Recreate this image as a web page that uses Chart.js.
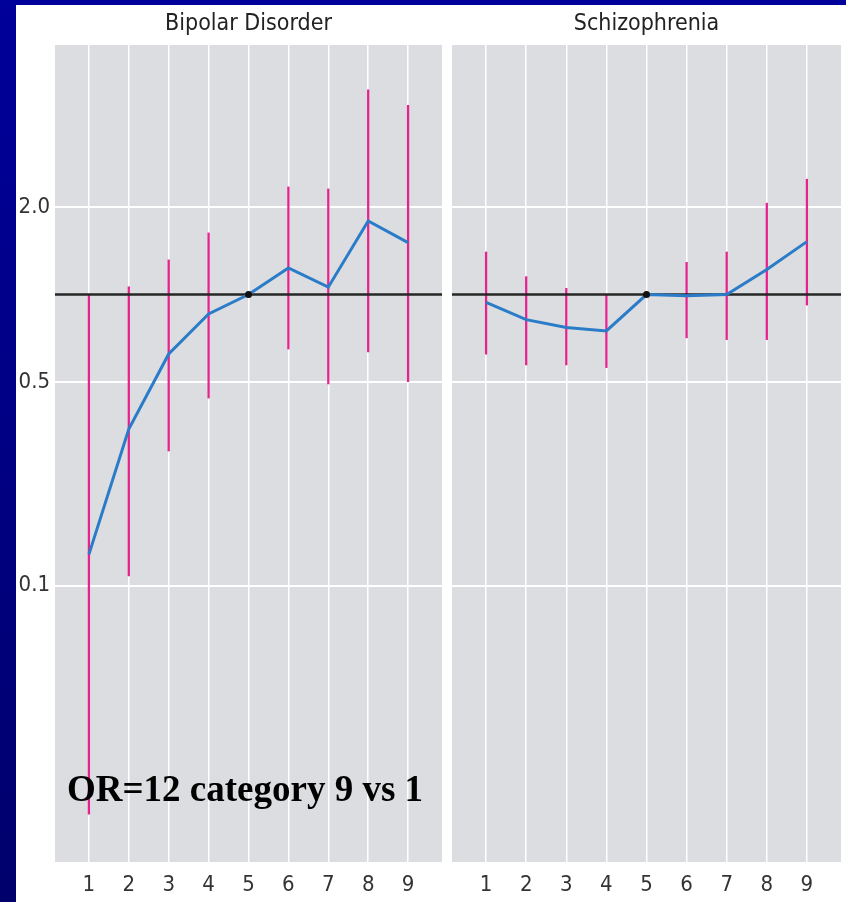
<!DOCTYPE html>
<html>
<head>
<meta charset="utf-8">
<script src="https://cdn.jsdelivr.net/npm/chart.js@4.4.1/dist/chart.umd.min.js"></script>
<style>
  html, body {
    margin: 0; padding: 0; width: 846px; height: 902px; overflow: hidden;
    background: linear-gradient(#00009a, #00006c);
  }
  #sheet { position: absolute; left: 16px; top: 5px; width: 830px; height: 897px; background: #fff; }
  .panel { position: absolute; top: 0; height: 897px; }
  #leftWrap { left: 0; width: 431px; }
  #rightWrap { left: 431px; width: 399px; }
</style>
</head>
<body>
<div id="sheet">
  <div class="panel" id="leftWrap"><canvas id="bipolar"></canvas></div>
  <div class="panel" id="rightWrap"><canvas id="schizo"></canvas></div>
</div>
<script>
// Odds ratios by category (category 5 is the reference group)
const categories = [1, 2, 3, 4, 5, 6, 7, 8, 9];

const bipolarOR   = [0.128, 0.345, 0.625, 0.858, 1.0, 1.234, 1.06, 1.79, 1.508];
const bipolarLow  = [0.0164, 0.108, 0.290, 0.441, null, 0.650, 0.493, 0.635, 0.502];
const bipolarHigh = [1.0, 1.062, 1.315, 1.628, null, 2.343, 2.306, 5.05, 4.47];

const schizoOR   = [0.94, 0.82, 0.77, 0.75, 1.0, 0.99, 1.0, 1.22, 1.52];
const schizoLow  = [0.624, 0.573, 0.573, 0.561, null, 0.71, 0.70, 0.70, 0.92];
const schizoHigh = [1.40, 1.152, 1.05, 1.0, null, 1.29, 1.40, 2.06, 2.49];

const yTickValues = [0.1, 0.5, 2.0];
const referenceOR = 1;

const X_MIN = 0.15, X_MAX = 9.85;
const Y_MIN = 0.01123, Y_MAX = 7.2;

const FAMILY = '"Liberation Sans Narrow", "DejaVu Sans Condensed", "Liberation Sans", sans-serif';
const TICK_FONT = { family: FAMILY, size: 22 };
const TITLE_FONT = { family: FAMILY, size: 23, weight: 'normal' };

const PINK = '#e6228f';
const BLUE = '#2a7cc9';
const PANEL_BG = '#dcdde0';

const panelBackground = {
  id: 'panelBackground',
  beforeDraw(chart) {
    const { ctx, chartArea: a } = chart;
    ctx.save();
    ctx.fillStyle = PANEL_BG;
    ctx.fillRect(a.left, a.top, a.right - a.left, a.bottom - a.top);
    ctx.restore();
  }
};

const oddsNote = {
  id: 'oddsNote',
  afterDraw(chart) {
    const { ctx, chartArea: a } = chart;
    ctx.save();
    ctx.font = 'bold 37px "Liberation Serif", "Times New Roman", serif';
    ctx.fillStyle = '#000';
    ctx.textBaseline = 'alphabetic';
    ctx.textAlign = 'left';
    ctx.fillText('OR=12 category 9 vs 1', a.left + 12, a.bottom - 61);
    ctx.restore();
  }
};

function buildChart(canvasId, title, or, low, high, showYLabels, padding, extraPlugins) {
  const bars = [];
  categories.forEach((c, i) => {
    if (low[i] != null && high[i] != null) bars.push({ x: c, y: [low[i], high[i]] });
  });
  return new Chart(document.getElementById(canvasId), {
    type: 'line',
    data: {
      datasets: [
        {
          type: 'bar',
          data: bars,
          backgroundColor: PINK,
          borderWidth: 0,
          barThickness: 1.6,
          grouped: false,
          order: 2
        },
        {
          type: 'line',
          data: [{ x: X_MIN, y: referenceOR }, { x: X_MAX, y: referenceOR }],
          borderColor: '#262626',
          borderWidth: 2.5,
          pointRadius: 0,
          order: 1
        },
        {
          type: 'line',
          data: categories.map((c, i) => ({ x: c, y: or[i] })),
          borderColor: BLUE,
          borderWidth: 3,
          tension: 0,
          pointRadius: ctx => (categories[ctx.dataIndex] === 5 ? 3.5 : 0),
          pointBackgroundColor: '#111',
          pointBorderWidth: 0,
          order: 0
        }
      ]
    },
    options: {
      responsive: true,
      maintainAspectRatio: false,
      animation: false,
      layout: { padding: padding },
      plugins: {
        legend: { display: false },
        tooltip: { enabled: false },
        title: {
          display: true,
          text: title,
          color: '#222',
          font: TITLE_FONT,
          fullSize: false,
          padding: { top: 5, bottom: 7.4 }
        }
      },
      scales: {
        x: {
          type: 'linear',
          min: X_MIN,
          max: X_MAX,
          offset: false,
          afterBuildTicks: s => { s.ticks = categories.map(v => ({ value: v })); },
          afterFit: s => { s.height = 40; },
          ticks: { color: '#333', font: TICK_FONT, padding: 10, autoSkip: false, maxRotation: 0,
                   callback: v => String(v) },
          grid: { color: '#ffffff', lineWidth: 1.5, drawTicks: false, offset: false },
          border: { display: false }
        },
        y: {
          type: 'logarithmic',
          min: Y_MIN,
          max: Y_MAX,
          afterBuildTicks: s => { s.ticks = yTickValues.map(v => ({ value: v })); },
          afterFit: s => { s.width = showYLabels ? 39 : 0; },
          ticks: { display: showYLabels, color: '#333', font: TICK_FONT, padding: 5,
                   callback: v => Number(v).toFixed(1) },
          grid: { color: '#ffffff', lineWidth: 2, drawTicks: false },
          border: { display: false }
        }
      }
    },
    plugins: [panelBackground].concat(extraPlugins)
  });
}

buildChart('bipolar', 'Bipolar Disorder', bipolarOR, bipolarLow, bipolarHigh, true,
           { left: 0, right: 5, top: 0, bottom: 0 }, [oddsNote]);
buildChart('schizo', 'Schizophrenia', schizoOR, schizoLow, schizoHigh, false,
           { left: 5, right: 5, top: 0, bottom: 0 }, []);
</script>
</body>
</html>
